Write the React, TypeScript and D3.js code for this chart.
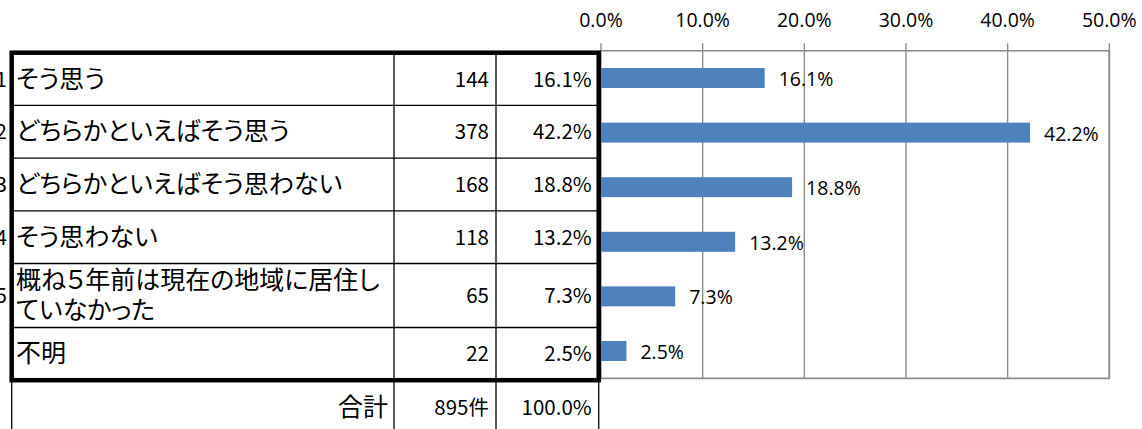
import React from "react";
import * as d3 from "d3";

const categoryLines: string[][] = [
  ["そう思う"],
  ["どちらかといえばそう思う"],
  ["どちらかといえばそう思わない"],
  ["そう思わない"],
  ["概ね５年前は現在の地域に居住し", "ていなかった"],
  ["不明"],
];
const rowNumbers = ["1", "2", "3", "4", "5"];
const counts = [144, 378, 168, 118, 65, 22];
const percents = [16.1, 42.2, 18.8, 13.2, 7.3, 2.5];
const xTicks = [0, 10, 20, 30, 40, 50];
const totalLabel = "合計";
const totalCount = "895件";
const totalPercent = "100.0%";

const W = 1142;
const H = 429;

export default function App() {
  // table geometry
  const tLeft = 11.7;
  const tRight = 598.7;
  const col1 = 394;
  const col2 = 496;
  const tTop = 52.7;
  const rowH = 52.7;
  const tallRowH = 64;
  const heights = categoryLines.map((l) => (l.length > 1 ? tallRowH : rowH));
  const bounds: number[] = [tTop];
  heights.forEach((h) => bounds.push(bounds[bounds.length - 1] + h));
  const tBottom = bounds[bounds.length - 1];
  const totalBottom = tBottom + 60;

  // chart geometry
  const pLeft = 601;
  const pRight = 1109.3;
  const pTop = 50.7;
  const pBottom = 378.3;
  const x = d3.scaleLinear().domain([0, 50]).range([pLeft, pRight]);
  const y = d3
    .scaleBand<number>()
    .domain(d3.range(percents.length))
    .range([pTop, pBottom])
    .paddingInner(0.634)
    .paddingOuter(0.317);

  const grid = "#8c8c8c";
  const jpFont = "'Noto Sans CJK JP', sans-serif";
  const chartFont = "'Open Sans', sans-serif";
  const jpStyle: React.CSSProperties = { fontFeatureSettings: "'palt'" };

  return (
    <div style={{ position: "fixed", left: 0, top: 0 }}>
      <svg width={W} height={H} style={{ display: "block", background: "#fff" }}>
        {/* row numbers at far left (clipped) */}
        {rowNumbers.map((n, i) => (
          <text
            key={"rn" + i}
            x={7}
            y={(bounds[i] + bounds[i + 1]) / 2 + 7.5}
            textAnchor="end"
            fontFamily={jpFont}
            fontSize={20.5}
            fill="#000"
          >
            {n}
          </text>
        ))}

        {/* chart gridlines */}
        {xTicks.map((t) => (
          <line
            key={"g" + t}
            x1={x(t)}
            x2={x(t)}
            y1={43.3}
            y2={pBottom}
            stroke={grid}
            strokeWidth={1.4}
          />
        ))}
        <line x1={pLeft} x2={pRight} y1={pTop} y2={pTop} stroke={grid} strokeWidth={1.4} />
        <line x1={pLeft} x2={pRight + 0.7} y1={pBottom} y2={pBottom} stroke={grid} strokeWidth={1.8} />
        <line x1={pRight} x2={pRight} y1={pTop} y2={pBottom} stroke={grid} strokeWidth={1.8} />
        {xTicks.map((t) => (
          <text
            key={"tl" + t}
            x={x(t)}
            y={27}
            textAnchor="middle"
            fontFamily={chartFont}
            fontSize={19.5}
            fill="#000"
          >
            {t.toFixed(1) + "%"}
          </text>
        ))}

        {/* bars */}
        {percents.map((p, i) => (
          <rect
            key={"b" + i}
            x={x(0)}
            y={y(i)!}
            width={x(p) - x(0)}
            height={y.bandwidth()}
            fill="#4f81bd"
          />
        ))}
        {percents.map((p, i) => (
          <text
            key={"bl" + i}
            x={x(p) + 14}
            y={y(i)! + y.bandwidth() / 2 + 8}
            textAnchor="start"
            fontFamily={chartFont}
            fontSize={19.5}
            fill="#000"
          >
            {p.toFixed(1) + "%"}
          </text>
        ))}

        {/* table body */}
        {categoryLines.map((lines, i) => {
          const cy = (bounds[i] + bounds[i + 1]) / 2;
          const lh = 30;
          return (
            <g key={"r" + i}>
              {lines.map((ln, j) => (
                <text
                  key={j}
                  x={16}
                  y={cy + (j - (lines.length - 1) / 2) * lh + 8.5}
                  fontFamily={jpFont}
                  fontSize={25}
                  style={jpStyle}
                  fill="#000"
                >
                  {ln}
                </text>
              ))}
              <text
                x={col2 - 7}
                y={cy + 7.5}
                textAnchor="end"
                fontFamily={jpFont}
                fontSize={20.5}
                fill="#000"
              >
                {counts[i]}
              </text>
              <text
                x={tRight - 7}
                y={cy + 7.5}
                textAnchor="end"
                fontFamily={jpFont}
                fontSize={20.5}
                fill="#000"
              >
                {percents[i].toFixed(1) + "%"}
              </text>
            </g>
          );
        })}
        {bounds.slice(1, -1).map((b, i) => (
          <line key={"hl" + i} x1={tLeft} x2={tRight} y1={b} y2={b} stroke="#000" strokeWidth={1.3} />
        ))}
        <line x1={col1} x2={col1} y1={tTop} y2={H + 5} stroke="#000" strokeWidth={1.3} />
        <line x1={col2} x2={col2} y1={tTop} y2={H + 5} stroke="#000" strokeWidth={1.3} />
        <line x1={tLeft} x2={tLeft} y1={tBottom} y2={H + 5} stroke="#000" strokeWidth={1.3} />
        <line x1={tRight} x2={tRight} y1={tBottom} y2={H + 5} stroke="#000" strokeWidth={1.3} />
        <rect
          x={tLeft}
          y={tTop}
          width={tRight - tLeft}
          height={tBottom - tTop}
          fill="none"
          stroke="#000"
          strokeWidth={4.5}
        />

        {/* total row */}
        <text
          x={col1 - 6}
          y={(tBottom + totalBottom) / 2 - 3 + 8.5}
          textAnchor="end"
          fontFamily={jpFont}
          fontSize={25}
          style={jpStyle}
          fill="#000"
        >
          {totalLabel}
        </text>
        <text
          x={col2 - 7}
          y={(tBottom + totalBottom) / 2 - 3 + 7.5}
          textAnchor="end"
          fontFamily={jpFont}
          fontSize={20.5}
          fill="#000"
        >
          {totalCount}
        </text>
        <text
          x={tRight - 7}
          y={(tBottom + totalBottom) / 2 - 3 + 7.5}
          textAnchor="end"
          fontFamily={jpFont}
          fontSize={20.5}
          fill="#000"
        >
          {totalPercent}
        </text>
      </svg>
    </div>
  );
}
